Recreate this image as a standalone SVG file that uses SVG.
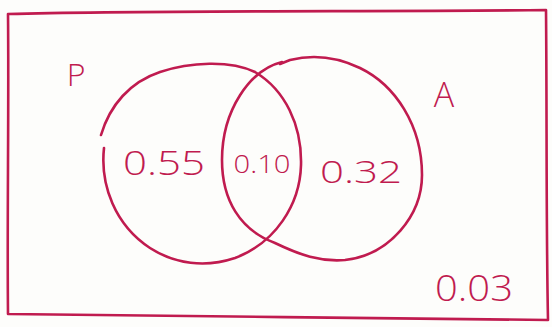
<svg xmlns="http://www.w3.org/2000/svg" width="552" height="327" viewBox="0 0 552 327">
<style>
.ln{fill:none;stroke:#c01b4f;stroke-width:2.6;stroke-linecap:round;stroke-linejoin:round}
.t{fill:#c01b4f;font-family:"Open Sans","Liberation Sans",Arial,sans-serif;font-weight:300}
</style>
<rect width="552" height="327" fill="#fdfdfb"/>
<g id="universe">
<path class="ln" d="M8,14 C150,10 400,12 546,10 C547,110 546,220 548,320 C400,318 150,316 8,314 C7,220 9,110 8,14 Z"/>
<text class="t" x="474" y="301" font-size="36" text-anchor="middle" textLength="78" lengthAdjust="spacingAndGlyphs">0.03</text>
</g>
<g id="P">
<path class="ln" d="M104,148 C100,185 115,225 150,248 C175,264 205,268 235,258 C275,243 300,205 301,165 C302,125 285,90 255,72 C230,60 190,62 160,72 C130,82 110,105 101,135"/>
<text class="t" x="76" y="86" font-size="32" text-anchor="middle">P</text>
<text class="t" x="164" y="175" font-size="33" text-anchor="middle" textLength="82" lengthAdjust="spacingAndGlyphs">0.55</text>
</g>
<g id="A">
<path class="ln" d="M282,62 C250,70 222,110 222,160 C222,200 240,230 275,243 C300,255 320,262 345,260 C390,255 422,215 422,175 C422,125 395,85 360,68 C335,56 310,55 290,60 L280,64"/>
<text class="t" x="444" y="107" font-size="34" text-anchor="middle">A</text>
<text class="t" x="361" y="183" font-size="31" text-anchor="middle" textLength="82" lengthAdjust="spacingAndGlyphs">0.32</text>
</g>
<g id="PA">
<text class="t" x="262" y="173" font-size="26" text-anchor="middle" textLength="57" lengthAdjust="spacingAndGlyphs">0.10</text>
</g>
<g id="connectors"></g>
</svg>
